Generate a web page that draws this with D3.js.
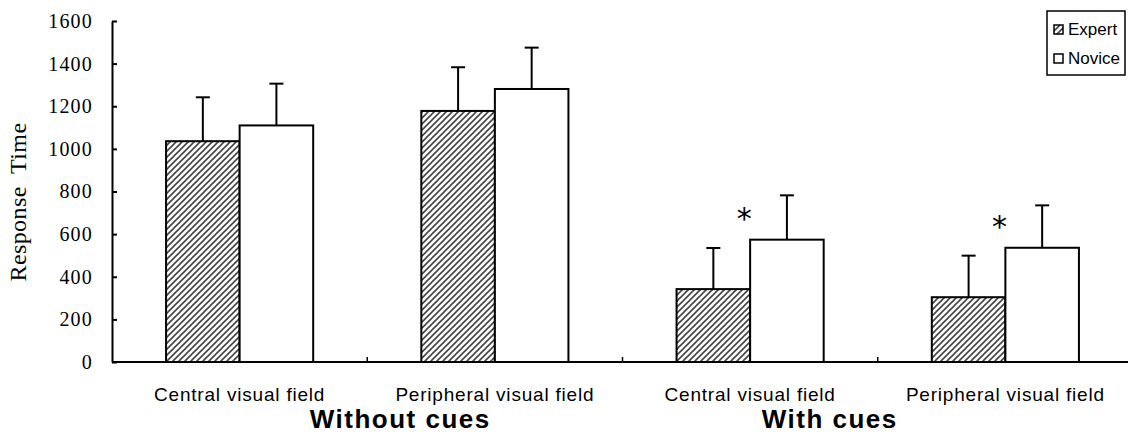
<!DOCTYPE html>
<html>
<head>
<meta charset="utf-8">
<script src="https://cdn.jsdelivr.net/npm/d3@7"></script>
<style>
  body { margin: 0; background: #fff; }
  svg { display: block; }
</style>
</head>
<body>
<svg id="chart" width="1128" height="435"></svg>
<script>
// data
const categories = ["Central visual field", "Peripheral visual field", "Central visual field", "Peripheral visual field"];
const groups = ["Without cues", "With cues"];
const series = ["Expert", "Novice"];
const expertMean = [1036, 1178, 342, 304];
const expertSd = [206, 205, 193, 195];
const noviceMean = [1110, 1281, 574, 536];
const noviceSd = [196, 194, 208, 199];
const significant = [false, false, true, true];
const yTicks = [0, 200, 400, 600, 800, 1000, 1200, 1400, 1600];

const svg = d3.select("#chart");
const plotLeft = 112, plotRight = 1133, plotTop = 21, plotBottom = 362;

const x = d3.scaleBand().domain(d3.range(categories.length)).range([plotLeft, plotRight]).padding(0);
const xSub = d3.scaleBand().domain(series).range([0, x.bandwidth()]).paddingInner(0).paddingOuter(0.735);
const y = d3.scaleLinear().domain([0, 1600]).range([plotBottom, plotTop]);

// hatch for expert bars
const defs = svg.append("defs");
const pat = defs.append("pattern")
  .attr("id", "hatch")
  .attr("patternUnits", "userSpaceOnUse")
  .attr("width", 6).attr("height", 6);
pat.append("rect").attr("width", 6).attr("height", 6).attr("fill", "#fff");
pat.append("path")
  .attr("d", "M-1,1 L1,-1 M0,6 L6,0 M5,7 L7,5")
  .attr("stroke", "#444").attr("stroke-width", 1.6);

let rows = [];
for (let i = 0; i < categories.length; i++) {
  rows.push({i: i, s: "Expert", v: expertMean[i], sd: expertSd[i]});
  rows.push({i: i, s: "Novice", v: noviceMean[i], sd: noviceSd[i]});
}

// error bars first so bars sit over the stems
svg.append("g").selectAll("g.err")
  .data(rows)
  .enter().append("g")
  .attr("class", "err")
  .each(function(d) {
    let cx = x(d.i) + xSub(d.s) + xSub.bandwidth() / 2;
    let g = d3.select(this);
    g.append("line")
      .attr("x1", cx).attr("x2", cx)
      .attr("y1", y(d.v)).attr("y2", y(d.v + d.sd))
      .attr("stroke", "#000").attr("stroke-width", 2);
    g.append("line")
      .attr("x1", cx - 7).attr("x2", cx + 7)
      .attr("y1", y(d.v + d.sd)).attr("y2", y(d.v + d.sd))
      .attr("stroke", "#000").attr("stroke-width", 2);
  });

svg.append("g").selectAll("rect")
  .data(rows)
  .enter().append("rect")
  .attr("x", d => x(d.i) + xSub(d.s))
  .attr("y", d => y(d.v))
  .attr("width", xSub.bandwidth())
  .attr("height", d => y(0) - y(d.v))
  .attr("fill", d => d.s == "Expert" ? "url(#hatch)" : "#fff")
  .attr("stroke", "#000")
  .attr("stroke-width", 2);

// significance stars
svg.append("g").selectAll("text")
  .data(d3.range(categories.length).filter(i => significant[i]))
  .enter().append("text")
  .attr("x", i => x(i) + xSub("Novice") - 6)
  .attr("y", i => y(noviceMean[i]) - 11)
  .attr("text-anchor", "middle")
  .attr("font-family", "DejaVu Sans, sans-serif")
  .attr("font-size", 30)
  .text("*");

// y axis
const yAxis = d3.axisLeft(y).tickValues(yTicks).tickFormat(d3.format("d"))
  .tickSize(-5).tickPadding(19).tickSizeOuter(0);
const yg = svg.append("g").attr("transform", `translate(${plotLeft},0)`).call(yAxis);
yg.select(".domain").attr("stroke-width", 2);
yg.selectAll(".tick line").attr("stroke-width", 2);
yg.selectAll("text")
  .attr("font-family", "Liberation Serif, Times New Roman, serif")
  .attr("font-size", 20)
  .attr("letter-spacing", 1.2)
  .attr("fill", "#000");

// x axis, ticks at category boundaries
const xg = svg.append("g").attr("transform", `translate(0,${plotBottom})`);
xg.append("line")
  .attr("x1", plotLeft).attr("x2", 1128)
  .attr("y1", 0).attr("y2", 0)
  .attr("stroke", "#000").attr("stroke-width", 2);
xg.selectAll("line.tk")
  .data(d3.range(1, categories.length))
  .enter().append("line")
  .attr("class", "tk")
  .attr("x1", i => x(i)).attr("x2", i => x(i))
  .attr("y1", 0).attr("y2", -5)
  .attr("stroke", "#000").attr("stroke-width", 1.5);

xg.selectAll("text.cat")
  .data(categories)
  .enter().append("text")
  .attr("class", "cat")
  .attr("x", (d, i) => x(i) + x.bandwidth() / 2)
  .attr("y", 39)
  .attr("text-anchor", "middle")
  .attr("font-family", "Liberation Sans, Arial, sans-serif")
  .attr("font-size", 19)
  .attr("letter-spacing", 0.8)
  .text(d => d);

// group labels, shifted as in the original
const groupShift = [33, -48];
xg.selectAll("text.grp")
  .data(groups)
  .enter().append("text")
  .attr("class", "grp")
  .attr("x", (d, i) => x(i * 2 + 1) + groupShift[i])
  .attr("y", 66)
  .attr("text-anchor", "middle")
  .attr("font-family", "Liberation Sans, Arial, sans-serif")
  .attr("font-weight", "bold")
  .attr("font-size", 26)
  .attr("letter-spacing", 1.5)
  .text(d => d);

// y title
svg.append("text")
  .attr("transform", "translate(26,202) rotate(-90)")
  .attr("text-anchor", "middle")
  .attr("font-family", "Liberation Serif, Times New Roman, serif")
  .attr("font-size", 24)
  .attr("letter-spacing", 0.4)
  .attr("xml:space", "preserve")
  .text("Response  Time");

// legend
const lg = svg.append("g").attr("transform", "translate(1047,11)");
lg.append("rect")
  .attr("width", 78).attr("height", 64)
  .attr("fill", "#fff").attr("stroke", "#000").attr("stroke-width", 1.5);
lg.selectAll("g.item")
  .data(series)
  .enter().append("g")
  .attr("class", "item")
  .attr("transform", (d, i) => `translate(7,${14 + i * 29})`)
  .each(function(d) {
    let g = d3.select(this);
    g.append("rect")
      .attr("width", 9).attr("height", 9)
      .attr("fill", d == "Expert" ? "url(#hatch)" : "#fff")
      .attr("stroke", "#000").attr("stroke-width", 1.5);
    g.append("text")
      .attr("x", 14).attr("y", 10)
      .attr("font-family", "Liberation Sans, Arial, sans-serif")
      .attr("font-size", 17)
      .text(d);
  });
</script>
</body>
</html>
